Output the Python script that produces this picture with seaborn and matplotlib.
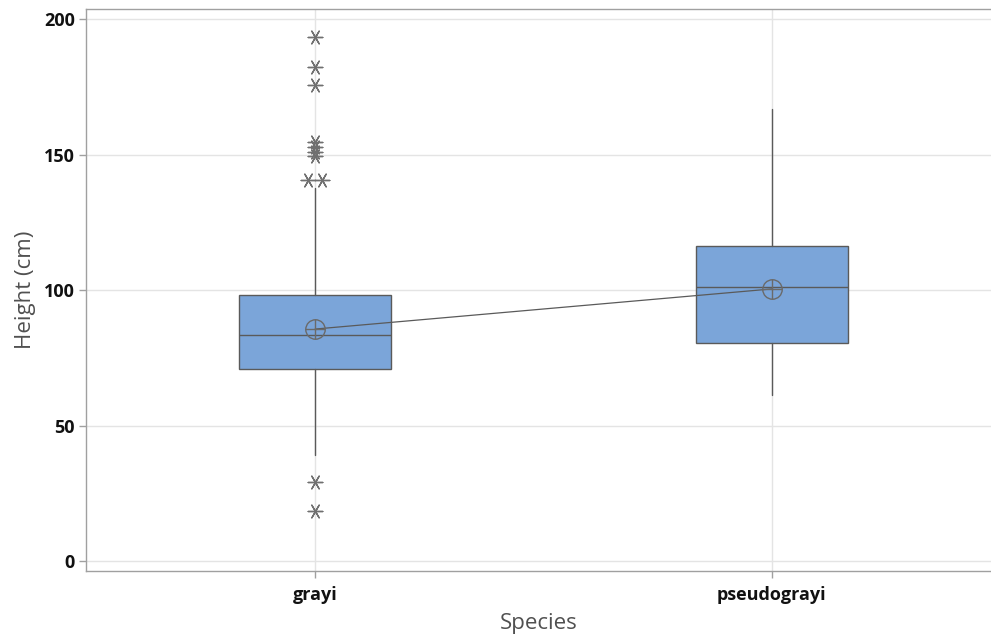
import numpy as np
import pandas as pd
import matplotlib
matplotlib.use("Agg")
import matplotlib.pyplot as plt
import seaborn as sns

# ---- data ----
species = ["grayi", "pseudograyi"]
q1 = [70.8, 80.4]
medians = [83.4, 101.1]
q3 = [98.2, 116.2]
whisker_low = [39.1, 61.3]
whisker_high = [137.6, 166.8]
means = [85.6, 100.4]
grayi_outliers = [193.4, 182.3, 175.6, 154.8, 152.9, 151.1, 149.3, 140.6, 140.6, 29.2, 18.5]
pseudograyi_outliers = []
y_ticks = [0, 50, 100, 150, 200]

sns.set_theme(style="white")
plt.rcParams['font.family'] = ['Open Sans', 'DejaVu Sans']

BOX_COLOR = "#7BA5D9"
LINE_COLOR = "#5a5a5a"
GRID_COLOR = "#e4e4e4"
SPINE_COLOR = "#a0a0a0"

fig = plt.figure(figsize=(9.91, 6.41), dpi=100)
ax = fig.add_axes([0.0868, 0.1092, 0.913, 0.8775])

# grid
for yt in y_ticks:
    ax.axhline(yt, color=GRID_COLOR, lw=1.0, zorder=0)
for i in range(len(species)):
    ax.axvline(i, color=GRID_COLOR, lw=1.0, zorder=0)

# boxes
stats = []
for i, sp in enumerate(species):
    stats.append(dict(label=sp, q1=q1[i], med=medians[i], q3=q3[i],
                      whislo=whisker_low[i], whishi=whisker_high[i], fliers=[]))
ax.bxp(stats, positions=list(range(len(species))), widths=0.333,
       patch_artist=True, showfliers=False, showcaps=False,
       boxprops=dict(facecolor=BOX_COLOR, edgecolor=LINE_COLOR, linewidth=1.0),
       medianprops=dict(color=LINE_COLOR, linewidth=1.0),
       whiskerprops=dict(color=LINE_COLOR, linewidth=1.0),
       manage_ticks=False, zorder=2)

# outliers (ties spread side by side)
rows = []
for i, outs in enumerate([grayi_outliers, pseudograyi_outliers]):
    vals = pd.Series(outs, dtype=float)
    for v, grp in vals.groupby(vals):
        n = len(grp)
        offs = (np.arange(n) - (n - 1) / 2) * 0.032
        for o in offs:
            rows.append(dict(x=i + o, y=v))
out_df = pd.DataFrame(rows)
sns.scatterplot(data=out_df, x="x", y="y", marker=(6, 2, 30), s=110,
                color="#707070", linewidth=1.0, ax=ax, zorder=4)

# means connected
ax.plot(range(len(species)), means, color=LINE_COLOR, lw=0.9, zorder=3)
ax.plot(range(len(species)), means, linestyle="none", marker="o", markersize=14,
        markerfacecolor="none", markeredgecolor="#6a6a6a", markeredgewidth=1.0, zorder=5)
ax.plot(range(len(species)), means, linestyle="none", marker="+", markersize=14,
        markeredgecolor="#6a6a6a", markeredgewidth=1.0, zorder=5)

ax.set_xlim(-0.502, 1.48)
ax.set_ylim(-3.7, 203.9)
ax.set_xticks(range(len(species)))
ax.set_xticklabels(species)
ax.set_yticks(y_ticks)

ax.tick_params(axis="both", which="both", length=5, width=1, color=SPINE_COLOR,
               labelsize=13, labelcolor="#111111", pad=3)
for lab in ax.get_xticklabels() + ax.get_yticklabels():
    lab.set_fontweight("bold")
ax.tick_params(axis="x", bottom=True, pad=6)
ax.tick_params(axis="y", left=True)

ax.set_xlabel("Species", fontsize=16, color="#505050", labelpad=6)
ax.set_ylabel("Height (cm)", fontsize=16, color="#505050", labelpad=6)

for side in ["left", "bottom", "top"]:
    ax.spines[side].set_visible(True)
    ax.spines[side].set_color(SPINE_COLOR)
    ax.spines[side].set_linewidth(1.0)
ax.spines["right"].set_visible(False)
ax.grid(False)

fig.savefig("out.png", dpi=100)
